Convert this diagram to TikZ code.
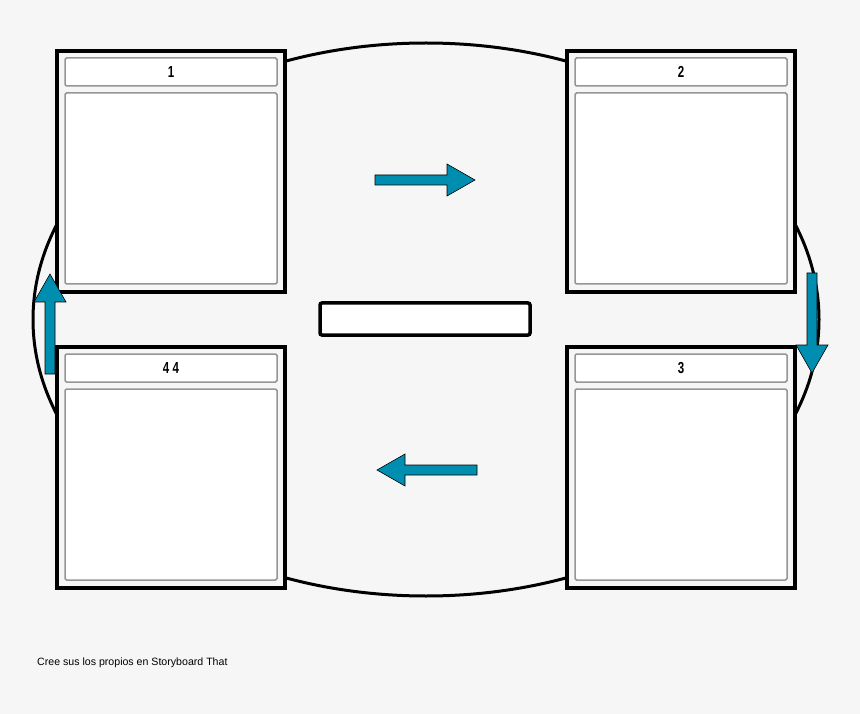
\documentclass[tikz,border=0pt]{standalone}
\usepackage{fontspec}
\setmainfont{Liberation Sans}
\newfontfamily\narrowfont[FakeStretch=0.72]{Liberation Sans}
\usepackage{tikz}
\usetikzlibrary{shapes.geometric}

\definecolor{paper}{RGB}{246,246,246}
\definecolor{frame}{RGB}{150,150,150}
\definecolor{flowblue}{RGB}{0,142,176}

\begin{document}
\begin{tikzpicture}[x=1pt,y=-1pt,
  card/.style={draw=black,fill=paper,line width=3.5pt,minimum width=228pt,minimum height=241pt,inner sep=0pt},
  cell/.style={draw=frame,fill=white,line width=1.5pt,rounded corners=1.5pt,minimum width=212pt,inner sep=0pt},
  flow/.style={draw=black,fill=flowblue,line width=0.6pt,line join=miter}]
%
\path[use as bounding box,fill=paper] (0,0) rectangle (860,714);
%
\node[draw=black,line width=3pt,ellipse,minimum width=786pt,minimum height=553pt,inner sep=0pt] (loop) at (426,319.5) {};
%
\newcommand{\panel}[4]{
  \node[card] (#4) at (#1,#2) {};
  \node[cell,minimum height=28pt,font=\narrowfont\bfseries\fontsize{16}{17}\selectfont] (#4title) at (#1,#2-99.5) {#3};
  \node[cell,minimum height=191pt] (#4body) at (#1,#2+17) {};
}
%
\panel{171}{171.5}{1}{first}
\panel{681}{171.5}{2}{second}
\panel{681}{467.5}{3}{third}
\panel{171}{467.5}{4 4}{fourth}
%
\node[draw=black,fill=white,line width=3.5pt,rounded corners=2pt,minimum width=210pt,minimum height=32pt,inner sep=0pt] (middle) at (425,319) {};
%
\newcommand{\flowarrow}[3]{
  \draw[flow,shift={(#1,#2)},rotate=#3] (0,-5) -- (72,-5) -- (72,-16) -- (100,0) -- (72,16) -- (72,5) -- (0,5) -- cycle;
}
%
\flowarrow{375}{180}{0}
\flowarrow{812}{273}{-90}
\flowarrow{477}{470}{180}
\flowarrow{50}{374}{90}
%
\node[anchor=base west,inner sep=0pt,font=\fontsize{10.6}{12}\selectfont] (credit) at (37,665) {Cree sus los propios en Storyboard That};
%
\end{tikzpicture}
\end{document}
